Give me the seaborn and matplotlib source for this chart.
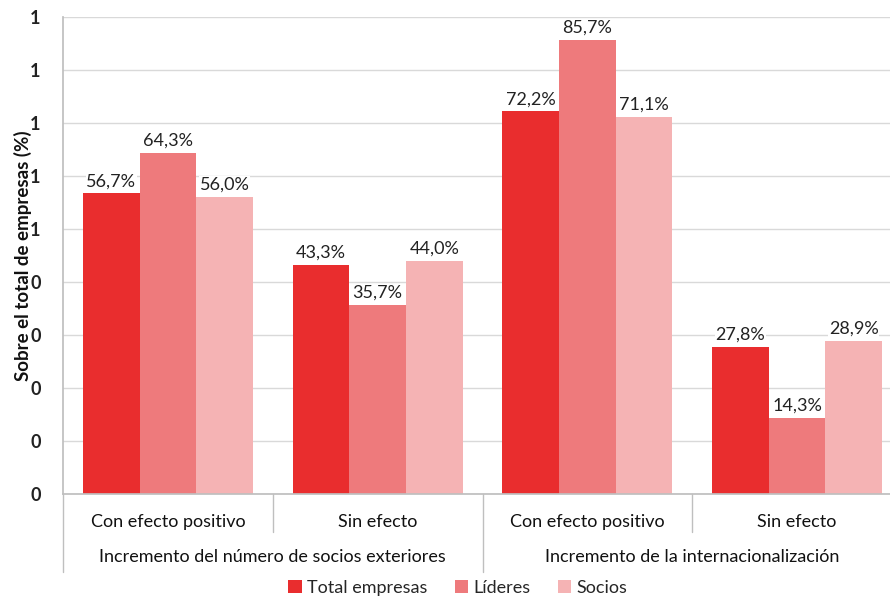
import matplotlib
matplotlib.use("Agg")
import matplotlib.pyplot as plt
import matplotlib.transforms as mtransforms
import seaborn as sns
import pandas as pd

# ---- data ----
categories = ["Con efecto positivo", "Sin efecto", "Con efecto positivo", "Sin efecto"]
groups = ["Incremento del número de socios exteriores", "Incremento de la internacionalización"]
series = ["Total empresas", "Líderes", "Socios"]
total_empresas = [0.567, 0.433, 0.722, 0.278]
lideres = [0.643, 0.357, 0.857, 0.143]
socios = [0.560, 0.440, 0.711, 0.289]
y_ticks = [0.0, 0.1, 0.2, 0.3, 0.4, 0.5, 0.6, 0.7, 0.8, 0.9]
y_tick_labels = ["0", "0", "0", "0", "0", "1", "1", "1", "1", "1"]
y_label = "Sobre el total de empresas (%)"

colors = ["#E92D2E", "#EE7A7C", "#F5B3B4"]

rows = []
for s, vals in zip(series, [total_empresas, lideres, socios]):
    for i, v in enumerate(vals):
        rows.append({"key": f"c{i}", "serie": s, "valor": v})
df = pd.DataFrame(rows)

sns.set_theme(style="white")
plt.rcParams["font.family"] = ["Lato", "DejaVu Sans"]

FS = 13
AX_L, AX_R = 63, 902

fig = plt.figure(figsize=(8.9, 6.0), dpi=100)
ax = fig.add_axes([AX_L / 890, 1 - 494 / 600, (AX_R - AX_L) / 890, (494 - 17) / 600])

sns.barplot(data=df, x="key", y="valor", hue="serie", palette=colors,
            width=0.81, saturation=1, ax=ax, legend=True, errorbar=None, linewidth=0)

ax.set_xlim(-0.5, 3.5)
ax.set_ylim(0, 0.9)
ax.set_yticks(y_ticks)
ax.set_yticklabels(y_tick_labels, fontsize=FS, fontweight="bold", color="#222222")
ax.tick_params(axis="y", length=0, pad=16)
ax.yaxis.grid(True, color="#D9D9D9", linewidth=1)
ax.set_axisbelow(True)
ax.set_ylabel(y_label, fontsize=13.5, fontweight="bold", color="#111111")
ax.yaxis.set_label_coords(-31 / (AX_R - AX_L), 0.5)
ax.set_xlabel("")
ax.set_xticks([])
for sp in ["top", "right"]:
    ax.spines[sp].set_visible(False)
ax.spines["left"].set_color("#BFBFBF")
ax.spines["bottom"].set_color("#BFBFBF")

# data labels
for cont in ax.containers:
    labels = [f"{b.get_height() * 100:.1f}%".replace(".", ",") for b in cont]
    ax.bar_label(cont, labels=labels, padding=3, fontsize=FS, color="#222222",
                 bbox=dict(facecolor="white", edgecolor="none", pad=0.5))

trans = mtransforms.blended_transform_factory(ax.transData, ax.transAxes)
# category labels
for i, c in enumerate(categories):
    ax.text(i, -0.058, c, transform=trans, ha="center", va="center", fontsize=FS, color="#111111")
# group labels
for g_i, g in enumerate(groups):
    ax.text(0.5 + 2 * g_i, -0.133, g, transform=trans, ha="center", va="center", fontsize=FS, color="#111111")

# separators
line_kw = dict(color="#BFBFBF", linewidth=1, clip_on=False, transform=trans)
for xs in [0.5, 2.5]:
    ax.plot([xs, xs], [0, -0.08], **line_kw)
ax.plot([1.5, 1.5], [0, -0.1635], **line_kw)
ax.plot([0, 0], [0, -0.1635], color="#BFBFBF", linewidth=1, clip_on=False, transform=ax.transAxes)

# legend
handles, lbls = ax.get_legend_handles_labels()
ax.get_legend().remove()
fig.legend(handles, lbls, loc="center", bbox_to_anchor=(458 / 890, 1 - 588 / 600), ncol=3,
           frameon=False, fontsize=FS, handlelength=0.75, handleheight=0.75,
           handletextpad=0.3, columnspacing=1.5)

fig.savefig("out.png", dpi=100)
